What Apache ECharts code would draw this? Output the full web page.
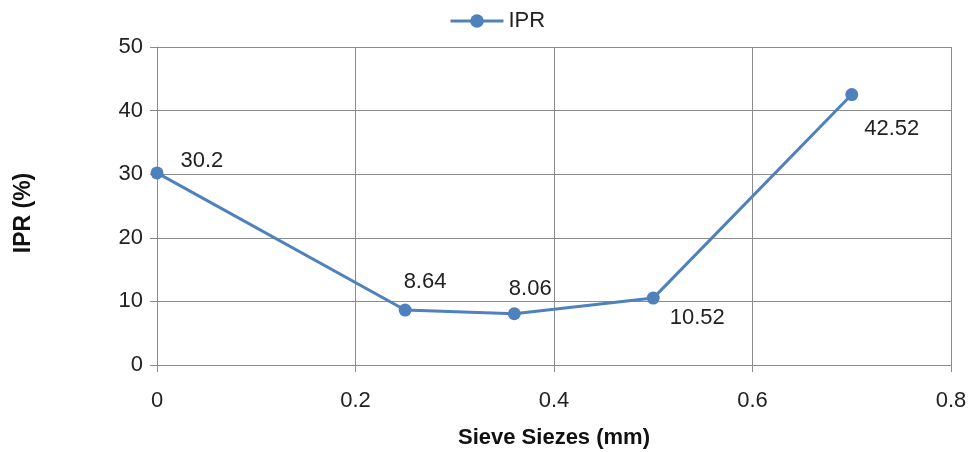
<!DOCTYPE html>
<html>
<head>
<meta charset="utf-8">
<script src="https://cdn.jsdelivr.net/npm/echarts@6/dist/echarts.min.js"></script>
<style>html,body{margin:0;padding:0;background:#fff;}#c{width:972px;height:452px;}</style>
</head>
<body>
<div id="c"></div>
<script>
const seriesName = 'IPR';
const sieveSizes = [0, 0.25, 0.36, 0.5, 0.7];
const iprValues = [30.2, 8.64, 8.06, 10.52, 42.52];
const xTicks = [0, 0.2, 0.4, 0.6, 0.8];
const yTicks = [0, 10, 20, 30, 40, 50];
const xTitle = 'Sieve Siezes (mm)';
const yTitle = 'IPR (%)';

// label offsets (style only)
const labelOffsets = [[17, -12], [-8, -28], [-12, -25], [10, 20], [6, 34]];

const FONT = 'Liberation Sans';
const color = '#4F81BD';
const chart = echarts.init(document.getElementById('c'), null, {renderer: 'canvas'});
chart.setOption({
  animation: false,
  textStyle: {fontFamily: FONT},
  legend: {
    top: 10, left: 449, padding: 0,
    data: [seriesName],
    itemWidth: 53, itemHeight: 17, itemGap: 10,
    lineStyle: {width: 3},
    textStyle: {fontSize: 22, color: '#222', fontFamily: FONT}
  },
  grid: {left: 157, right: 21, top: 47, bottom: 87, outerBoundsMode: 'none', containLabel: false},
  xAxis: {
    type: 'value', min: xTicks[0], max: xTicks[xTicks.length - 1], interval: 0.2,
    name: xTitle, nameLocation: 'middle', nameGap: 62,
    nameTextStyle: {fontSize: 22, fontWeight: 'bold', color: '#111', fontFamily: FONT},
    axisLine: {show: true, lineStyle: {color: '#8c8c8c', width: 1}},
    axisTick: {show: true, length: 7, lineStyle: {color: '#8c8c8c'}},
    axisLabel: {fontSize: 22, color: '#222', margin: 25, fontFamily: FONT},
    splitLine: {show: true, lineStyle: {color: '#8c8c8c', width: 1}}
  },
  yAxis: {
    type: 'value', min: yTicks[0], max: yTicks[yTicks.length - 1], interval: 10,
    name: yTitle, nameLocation: 'middle', nameGap: 122, nameRotate: 90,
    nameTextStyle: {fontSize: 23, fontWeight: 'bold', color: '#111', fontFamily: FONT, padding: [0, 14, 0, 0]},
    axisLine: {show: true, lineStyle: {color: '#8c8c8c', width: 1}},
    axisTick: {show: true, length: 7, lineStyle: {color: '#8c8c8c'}},
    axisLabel: {fontSize: 22, color: '#222', margin: 14, fontFamily: FONT},
    splitLine: {show: true, lineStyle: {color: '#8c8c8c', width: 1}}
  },
  series: [{
    name: seriesName,
    type: 'line',
    symbol: 'circle',
    symbolSize: 13,
    itemStyle: {color: color},
    lineStyle: {color: color, width: 3},
    data: sieveSizes.map((x, i) => ({
      value: [x, iprValues[i]],
      label: {
        show: true, position: 'right', distance: 0,
        offset: labelOffsets[i],
        align: 'left', verticalAlign: 'middle',
        fontSize: 22, color: '#222', fontFamily: FONT,
        formatter: String(iprValues[i])
      }
    }))
  }]
});
</script>
</body>
</html>
